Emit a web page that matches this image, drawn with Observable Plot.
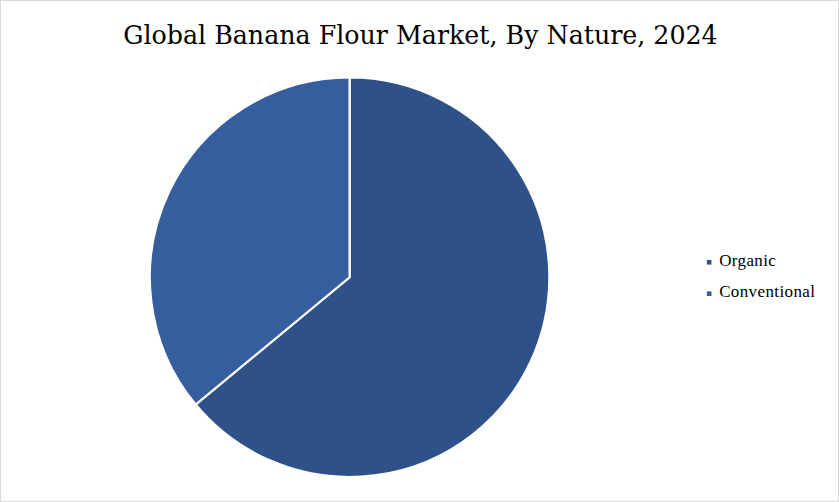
<!DOCTYPE html>
<html>
<head>
<meta charset="utf-8">
<script src="https://cdn.jsdelivr.net/npm/d3@7"></script>
<script src="https://cdn.jsdelivr.net/npm/@observablehq/plot@0.6"></script>
<style>
  html, body { margin: 0; padding: 0; background: #fff; }
  #frame { position: relative; width: 837px; height: 500px; border: 1px solid #d9d9d9; background: #fff; overflow: hidden; }
  #title { position: absolute; left: 0; top: 21px; width: 839px; text-align: center; font-family: "DejaVu Serif", serif; font-size: 25.3px; color: #000; line-height: 28px; white-space: nowrap; }
  #chart { position: absolute; left: -1px; top: 59px; }
  #chart svg text { font-family: "Liberation Serif", serif !important; letter-spacing: 0.4px; }
</style>
</head>
<body>
<div id="frame">
  <div id="title">Global Banana Flour Market, By Nature, 2024</div>
  <div id="chart"></div>
</div>
<script>
// Data
const natures = ["Organic", "Conventional"];
const shares = [64, 36];
const colors = ["#2F5189", "#365D9E"];

const data = natures.map((n, i) => ({nature: n, share: shares[i]}));

const W = 839, H = 442;
const cx = 350, cy = 217.5, R = 200;

const pieMark = (index, scales, values, dimensions) => {
  const arcs = d3.pie().sort(null).value(d => d.share)(data);
  const arc = d3.arc().innerRadius(0).outerRadius(R);
  const g = d3.create("svg:g")
    .attr("transform", `translate(${scales.x(cx)},${scales.y(cy)})`);
  g.selectAll("path")
    .data(arcs)
    .join("path")
    .attr("d", arc)
    .attr("fill", d => scales.color(d.data.nature))
    .attr("stroke", "#fff")
    .attr("stroke-width", 2.2)
    .attr("stroke-linejoin", "miter");
  return g.node();
};

const legendData = data.map((d, i) => ({nature: d.nature, lx: 709.5, ly: 202 + i * 31.5}));

const plot = Plot.plot({
  width: W,
  height: H,
  margin: 0,
  style: {background: "transparent", fontFamily: "'Liberation Serif', serif"},
  x: {domain: [0, W], range: [0, W], axis: null},
  y: {domain: [0, H], range: [0, H], axis: null},
  color: {domain: natures, range: colors},
  marks: [
    pieMark,
    Plot.dot(legendData, {x: "lx", y: "ly", fill: "nature", symbol: "square", r: 2.6, stroke: null}),
    Plot.text(legendData, {x: d => d.lx + 10, y: "ly", text: "nature", textAnchor: "start", fontSize: 17, fill: "#000", dy: -2, fontFamily: "'Liberation Serif', serif"})
  ]
});
document.getElementById("chart").appendChild(plot);
</script>
</body>
</html>
